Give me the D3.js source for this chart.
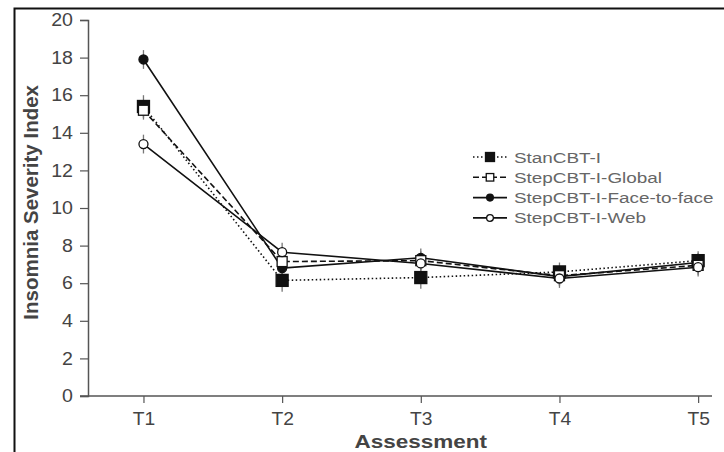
<!DOCTYPE html>
<html>
<head>
<meta charset="utf-8">
<script src="https://cdn.jsdelivr.net/npm/d3@7"></script>
<style>
  body { margin: 0; background: #fff; }
  svg { display: block; font-family: "Liberation Sans", Arial, sans-serif; }
</style>
</head>
<body>
<svg id="chart" width="724" height="452"></svg>
<script>
const assessments = ['T1', 'T2', 'T3', 'T4', 'T5'];
const stanCBT = [15.4, 6.15, 6.3, 6.6, 7.2];
const stepGlobal = [15.2, 7.15, 7.2, 6.4, 6.95];
const stepFace = [17.9, 6.8, 7.35, 6.35, 7.1];
const stepWeb = [13.4, 7.65, 7.05, 6.25, 6.85];
const errStan = [0.6, 0.6, 0.6, 0.5, 0.5];
const errGlobal = [0.5, 0.5, 0.5, 0.5, 0.5];
const errFace = [0.5, 0.5, 0.5, 0.5, 0.5];
const errWeb = [0.5, 0.5, 0.5, 0.5, 0.5];
const yTicks = [0, 2, 4, 6, 8, 10, 12, 14, 16, 18, 20];

const series = [
    {name: 'StanCBT-I', values: stanCBT, err: errStan, dash: '1.5,2.5', marker: 'square', fill: '#111'},
    {name: 'StepCBT-I-Global', values: stepGlobal, err: errGlobal, dash: '6,3', marker: 'square', fill: '#fff'},
    {name: 'StepCBT-I-Face-to-face', values: stepFace, err: errFace, dash: null, marker: 'circle', fill: '#111'},
    {name: 'StepCBT-I-Web', values: stepWeb, err: errWeb, dash: null, marker: 'circle', fill: '#fff'}
];

const svg = d3.select('#chart');

// outer frame
svg.append('rect')
    .attr('x', 14.5).attr('y', 8.5)
    .attr('width', 724).attr('height', 460)
    .attr('fill', 'none').attr('stroke', '#111').attr('stroke-width', 2);

const x = d3.scaleLinear().domain([0.6, 5.1]).range([88, 712]);
const y = d3.scaleLinear().domain([0, 20]).range([396, 20]);

// y axis
const yAxis = svg.append('g')
    .attr('transform', `translate(${x(0.6)},0)`)
    .call(d3.axisLeft(y).tickValues(yTicks).tickSize(8).tickPadding(7));

// x axis
const xAxis = svg.append('g')
    .attr('transform', `translate(0,${y(0)})`)
    .call(d3.axisBottom(x).tickValues([1, 2, 3, 4, 5]).tickSize(7).tickPadding(10)
        .tickFormat(d => assessments[d - 1]));

[yAxis, xAxis].forEach(ax => {
    ax.select('.domain').attr('stroke', '#555').attr('stroke-width', 1.5);
    ax.selectAll('.tick line').attr('stroke', '#555').attr('stroke-width', 1.2);
    ax.selectAll('.tick text').attr('fill', '#444').style('font-size', '17.5px');
});
xAxis.select('.domain').attr('d', `M${x(0.6) - 8},0H${x(5.1)}`);
// stretch tick labels a bit horizontally, around their anchor
yAxis.selectAll('.tick text').attr('transform', 'translate(-15,0) scale(1.12,1) translate(15,0)');
xAxis.selectAll('.tick text').attr('transform', 'scale(1.1,1)');

svg.append('g')
    .attr('transform', `translate(${x(3)},448)`)
    .append('text')
    .attr('transform', 'scale(1.25,1)')
    .attr('text-anchor', 'middle')
    .attr('fill', '#444').style('font-size', '18px').style('font-weight', 'bold')
    .text('Assessment');

svg.append('text')
    .attr('transform', `translate(38,${y(10.3)}) rotate(-90)`)
    .attr('text-anchor', 'middle')
    .attr('fill', '#444').style('font-size', '20.5px').style('font-weight', 'bold')
    .text('Insomnia Severity Index');

const line = d3.line()
    .x((d, i) => x(i + 1))
    .y(d => y(d));

const plot = svg.append('g');

// error bars
series.forEach(s => {
    plot.selectAll(null)
        .data(s.values)
        .enter()
        .append('line')
        .attr('x1', (d, i) => x(i + 1)).attr('x2', (d, i) => x(i + 1))
        .attr('y1', (d, i) => y(d + s.err[i]))
        .attr('y2', (d, i) => y(d - s.err[i]))
        .attr('stroke', '#777').attr('stroke-width', 1.3);
});

// lines
series.forEach(s => {
    plot.append('path')
        .datum(s.values)
        .attr('d', line)
        .attr('fill', 'none')
        .attr('stroke', '#111')
        .attr('stroke-width', 1.6)
        .attr('stroke-dasharray', s.dash);
});

function drawMarker(g, s, cx, cy, k) {
    if (s.marker === 'square') {
        const size = (s.fill === '#111' ? 12 : 10) * k;
        g.append('rect')
            .attr('x', cx - size / 2).attr('y', cy - size / 2)
            .attr('width', size).attr('height', size)
            .attr('fill', s.fill).attr('stroke', '#111').attr('stroke-width', 1.3);
    } else {
        g.append('circle')
            .attr('cx', cx).attr('cy', cy).attr('r', 4.5 * k)
            .attr('fill', s.fill).attr('stroke', '#111').attr('stroke-width', 1.3);
    }
}

// markers (open ones drawn last)
[series[0], series[2], series[1], series[3]].forEach(s => {
    s.values.forEach((v, i) => drawMarker(plot, s, x(i + 1), y(v), 1));
});

// legend
const legend = svg.append('g').attr('transform', 'translate(473,157)');
series.forEach((s, i) => {
    const row = legend.append('g').attr('transform', `translate(0,${i * 20.3})`);
    row.append('line')
        .attr('x1', 0).attr('x2', 34).attr('y1', 0).attr('y2', 0)
        .attr('stroke', '#111').attr('stroke-width', 1.6)
        .attr('stroke-dasharray', s.dash);
    drawMarker(row, s, 17, 0, 0.75);
    row.append('g')
        .attr('transform', 'translate(41,5.5)')
        .append('text')
        .attr('transform', 'scale(1.22,1)')
        .attr('fill', '#666').style('font-size', '15.5px')
        .text(s.name);
});
</script>
</body>
</html>
